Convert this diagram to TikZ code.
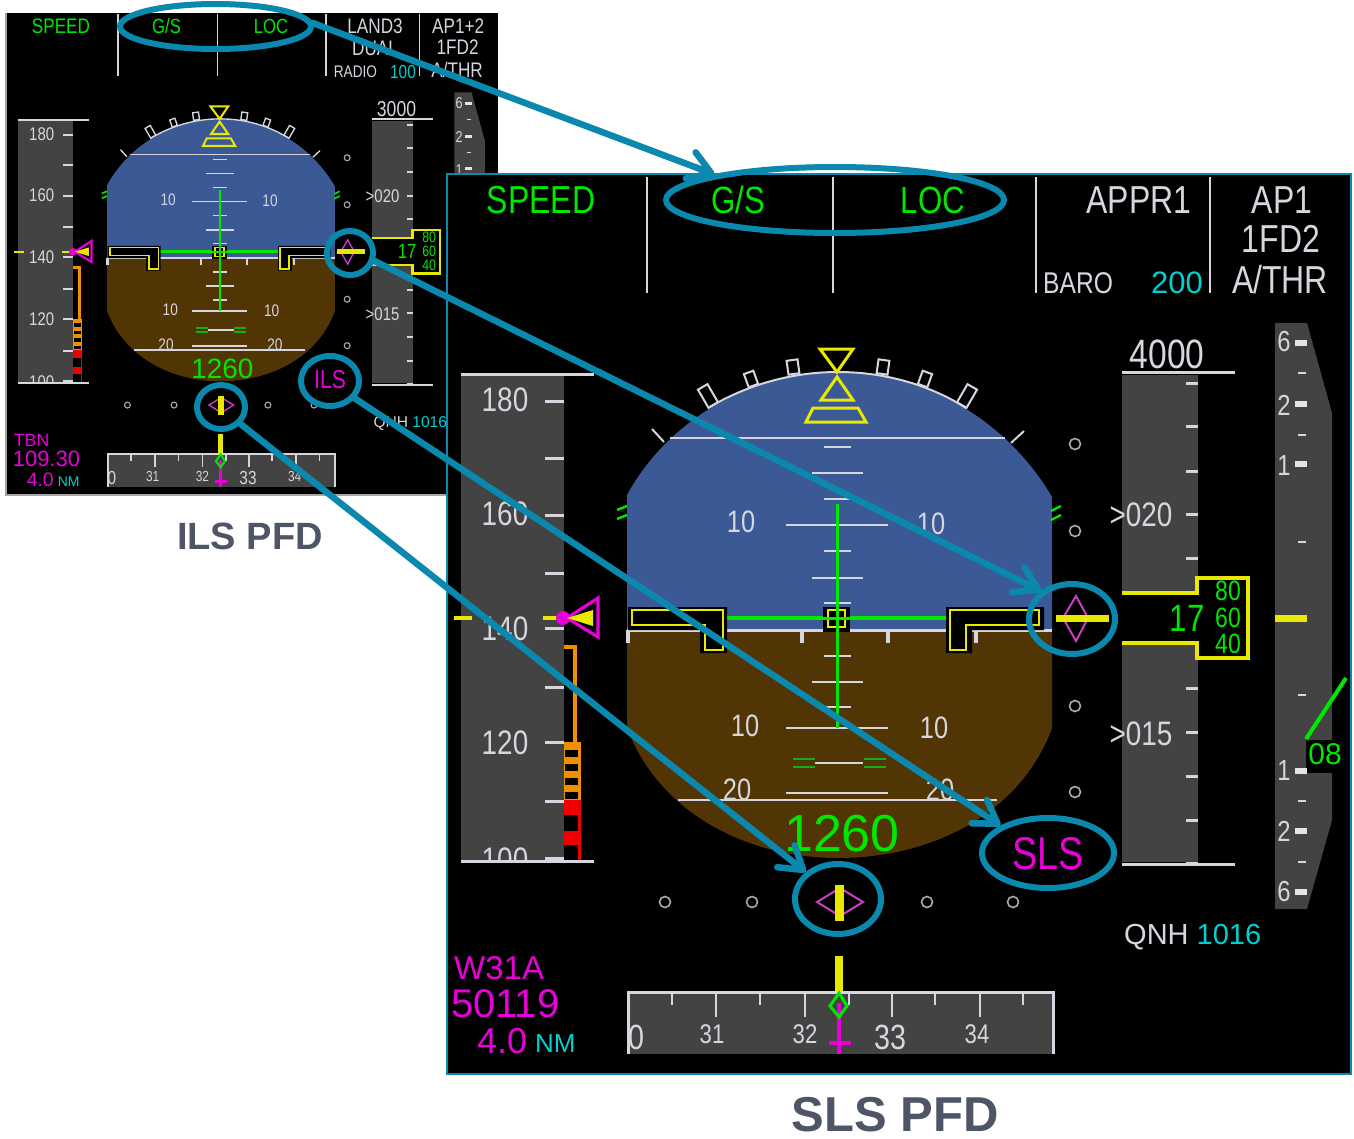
\documentclass[tikz,border=0pt]{standalone}
\usepackage{fontspec}
\setmainfont{Liberation Sans}
\newfontfamily\pfn[FakeStretch=0.82]{Liberation Sans}
\usetikzlibrary{arrows.meta,shapes.geometric}
\definecolor{wht}{HTML}{D6D6DE}
\definecolor{tape}{HTML}{434343}
\definecolor{sky}{HTML}{3B5995}
\definecolor{earth}{HTML}{523505}
\definecolor{grn}{HTML}{00E800}
\definecolor{dgrn}{HTML}{12B012}
\definecolor{yel}{HTML}{E8E800}
\definecolor{mag}{HTML}{E800D8}
\definecolor{dmag}{HTML}{C840C0}
\definecolor{cya}{HTML}{00D0D0}
\definecolor{org}{HTML}{F09000}
\definecolor{rd}{HTML}{F00000}
\definecolor{teal}{HTML}{0A88AE}
\definecolor{ttl}{HTML}{4D5566}
\def\LW{1}
\tikzset{
  x=1pt,y=-1pt,
  conn/.style={draw=teal,line width=6.5pt,line cap=round,-{Straight Barb[length=22pt,width=28pt,round]}},
  ring/.style={ellipse,draw=teal,line width=6pt,inner sep=0pt,fill=none},
  wl/.style={draw=wht,line width=2.4pt*\LW},
  wlb/.style={draw=wht,line width=3pt*\LW},
  yl/.style={draw=yel,line width=2.6pt*\LW},
  dia/.style={draw=dmag,line width=2pt*\LW},
  dot/.style={draw=wht!80!black,line width=1.6pt*\LW},
}
\newcounter{lblc}
% narrow display text
\newcommand\lbl[6][center]{\stepcounter{lblc}\node[anchor=#1,inner sep=0pt,text=#5,font=\pfn\fontsize{#4}{#4}\selectfont] (t\arabic{lblc}) at (#2,#3) {#6};}
% normal-width display text
\newcommand\lblw[6][center]{\stepcounter{lblc}\node[anchor=#1,inner sep=0pt,text=#5,font=\fontsize{#4}{#4}\selectfont] (t\arabic{lblc}) at (#2,#3) {#6};}
\newcommand\panelcommon{%
  % FMA
  \foreach \x in {647,833,1036,1210} \draw[wl] (\x,177) -- (\x,293);
  \lbl{541}{200}{39}{grn}{SPEED}
  \lbl{738}{200}{38}{grn}{G/S}
  \lbl{933}{200}{38}{grn}{LOC}
  % speed tape
  \fill[tape] (461,375) rectangle (564,860);
  \begin{scope}
    \clip (461,375) rectangle (564,860);
    \lbl{505}{860}{34}{wht}{100}
  \end{scope}
  \foreach \y/\t in {400/180,514/160,629/140,743/120} {\lbl{505}{\y}{34}{wht}{\t}}
  \foreach \y in {401,458,515,573,628,687,742,801,858} \draw[wlb] (545,\y) -- (564,\y);
  \draw[wlb] (461,374) -- (594,374);
  \draw[wlb] (461,861) -- (594,861);
  % speed limits
  \draw[org,line width=4pt*\LW] (564,647) -- (575,647) -- (575,742);
  \fill[org] (564,742) rectangle (581,800);
  \foreach \y in {750,764,778,792} \fill[black] (565,\y) rectangle (578,\y+7);
  \fill[rd] (564,800) rectangle (581,860);
  \fill[black] (564,815) rectangle (578,831);
  \fill[black] (564,845) rectangle (578,860);
  % speed index
  \draw[yel,line width=3.5pt*\LW] (454,618) -- (472,618);
  \draw[yel,line width=3.5pt*\LW] (543,618) -- (572,618);
  \fill[mag] (563,618) circle[radius=7];
  \draw[mag,line width=3.2pt*\LW] (567,618) -- (598,598) -- (598,637) -- cycle;
  \fill[yel] (567,618) -- (593,610) -- (593,626) -- cycle;
  % roll ticks
  \foreach \x/\y/\a/\w/\h in {708/396/30/11/21,751/379/20/10/14,793/367/8/11/14,883/367/-8/11/14,925/379/-20/10/14,967/396/-30/11/21}
    \draw[wl,line width=2pt*\LW,shift={(\x,\y)},rotate=\a] (-\w/2,-\h/2) rectangle (\w/2,\h/2);
  \draw[wl,line width=2pt*\LW] (652,429) -- (664,442);
  \draw[wl,line width=2pt*\LW] (1024,431) -- (1011,443);
  % attitude sphere
  \fill[sky] (627,495) .. controls (665,425) and (745,372) .. (838,372) .. controls (930,372) and (1010,425) .. (1052,497) -- (1052,630) -- (627,630) -- cycle;
  \fill[earth] (627,630) -- (627,728) .. controls (660,815) and (750,858) .. (838,858) .. controls (930,858) and (1020,815) .. (1052,728) -- (1052,630) -- cycle;
  \draw[wl,line width=2pt*\LW] (708,408) .. controls (750,383) and (795,372) .. (838,372) .. controls (885,372) and (930,385) .. (966,408);
  \draw[wl] (670,438) -- (1005,438);
  \draw[wlb] (627,630) -- (1052,630);
  \foreach \x in {628,802,888,976} \draw[wlb,line width=3.5pt*\LW] (\x,630) -- (\x,643);
  % pitch scale
  \foreach \y in {447,499,551,603,656,707} \draw[wl] (824,\y) -- (851,\y);
  \foreach \y in {473,578,682} \draw[wl] (812,\y) -- (863,\y);
  \foreach \y in {525,728,793} \draw[wl] (786,\y) -- (888,\y);
  \draw[wl] (815,763) -- (863,763);
  \draw[wl] (678,800) -- (997,800);
  \lbl{741}{522}{31}{wht}{10}
  \lbl{931}{524}{31}{wht}{10}
  \lbl{745}{726}{31}{wht}{10}
  \lbl{934}{728}{31}{wht}{10}
  \lbl{737}{790}{31}{wht}{20}
  \lbl{940}{790}{31}{wht}{20}
  \foreach \y in {759,767} {\draw[dgrn,line width=2.6pt*\LW] (793,\y) -- (815,\y); \draw[dgrn,line width=2.6pt*\LW] (864,\y) -- (886,\y);}
  % FD bars
  \draw[grn,line width=3pt*\LW] (837,504) -- (837,728);
  \draw[grn,line width=4pt*\LW] (723,618) -- (948,618);
  % aircraft symbol
  \fill[black] (628,607) -- (727,607) -- (727,653) -- (700,653) -- (700,630) -- (628,630) -- cycle;
  \draw[yl] (632,610) -- (723,610) -- (723,650) -- (705,650) -- (705,625) -- (632,625) -- cycle;
  \fill[black] (1044,607) -- (946,607) -- (946,653) -- (972,653) -- (972,630) -- (1044,630) -- cycle;
  \draw[yl] (1039,610) -- (950,610) -- (950,650) -- (966,650) -- (966,625) -- (1039,625) -- cycle;
  \fill[black] (823,607) rectangle (850,632);
  \draw[yl] (828,610) rectangle (845,627);
  \draw[grn,line width=3pt*\LW] (837,607) -- (837,632);
  \draw[grn,line width=3pt*\LW] (823,618) -- (850,618);
  % bank marks
  \draw[yl,line width=3pt*\LW] (820,349) -- (853,349) -- (837,372) -- cycle;
  \draw[yl,line width=3pt*\LW] (837,377) -- (853,400) -- (821,400) -- cycle;
  \draw[yl,line width=3pt*\LW] (813,408) -- (858,408) -- (866,422) -- (806,422) -- cycle;
  % pitch limit marks
  \foreach \y in {506,515} {\draw[grn,line width=2.4pt*\LW] (617,\y+4) -- (627,\y); \draw[grn,line width=2.4pt*\LW] (1051,\y+5) -- (1061,\y);}
  % radio altitude
  \lblw{842}{834}{52}{grn}{1260}
  % deviation dots
  \foreach \y in {444,531,706,792} \draw[dot] (1075,\y) circle[radius=5.5];
  \foreach \x in {665,752,927,1013} \draw[dot] (\x,902) circle[radius=5.5];
  % G/S and LOC diamonds
  \draw[dia] (1076,596) -- (1088,618) -- (1076,641) -- (1063,618) -- cycle;
  \draw[yel,line width=7pt*\LW] (1056,618) -- (1109,618);
  \draw[dia] (817,902) -- (840,888) -- (863,902) -- (840,916) -- cycle;
  \draw[yel,line width=9pt*\LW] (839,885) -- (839,921);
  \draw[yel,line width=7.5pt*\LW] (839,956) -- (839,993);
  % compass
  \fill[tape] (628,992) rectangle (1053,1054);
  \draw[wlb] (628,1054) -- (628,992) -- (1053,992) -- (1053,1054);
  \foreach \x in {672,760,849,935,1023} \draw[wl] (\x,992) -- (\x,1005);
  \foreach \x in {716,805,892,980} \draw[wl] (\x,992) -- (\x,1017);
  \lbl{636}{1037}{35}{wht}{0}
  \lbl{712}{1034}{27}{wht}{31}
  \lbl{805}{1034}{27}{wht}{32}
  \lbl{890}{1037}{35}{wht}{33}
  \lbl{977}{1034}{27}{wht}{34}
  \draw[mag,line width=4pt*\LW] (839,1003) -- (839,1054);
  \draw[mag,line width=4pt*\LW] (829,1043) -- (851,1043);
  \draw[grn,line width=3pt*\LW] (839,993) -- (847,1006) -- (839,1017) -- (830,1006) -- cycle;
  % altitude tape
  \fill[tape] (1122,375) rectangle (1198,862);
  \foreach \y in {383,426,471,514,558,688,732,776,820,863} \draw[wlb] (1186,\y) -- (1198,\y);
  \draw[wlb] (1122,372) -- (1235,372);
  \draw[wlb] (1122,864) -- (1235,864);
  \lbl{1141}{515}{34}{wht}{>020}
  \lbl{1141}{734}{34}{wht}{>015}
  % altitude window
  \fill[black] (1122,593) -- (1197,593) -- (1197,578) -- (1248,578) -- (1248,658) -- (1197,658) -- (1197,643) -- (1122,643) -- cycle;
  \draw[yel,line width=3.5pt*\LW] (1122,593) -- (1197,593) -- (1197,578) -- (1248,578) -- (1248,658) -- (1197,658) -- (1197,643) -- (1122,643);
  \lbl{1187}{618}{38}{grn}{17}
  \lbl{1228}{591}{28}{grn}{80}
  \lbl{1228}{618}{28}{grn}{60}
  \lbl{1228}{644}{28}{grn}{40}
  % vertical speed, upper part
  \fill[tape] (1275,323) -- (1307,323) -- (1332,413) -- (1332,740) -- (1306,740) -- (1306,773) -- (1332,773) -- (1332,820) -- (1307,909) -- (1275,909) -- cycle;
  \foreach \y/\t in {342/6,405/2,466/1} {\lbl{1284}{\y}{29}{wht}{\t}}
  \foreach \y in {343,404,464} \fill[white!90!black] (1295,\y-3) rectangle (1307,\y+3);
  \foreach \y in {373,435,542} \draw[wl,line width=1.5pt*\LW] (1298,\y) -- (1306,\y);
  \draw[yel,line width=7pt*\LW] (1275,618) -- (1307,618);
  % QNH
  \lblw[west]{1124}{937}{29}{wht}{QNH \textcolor{cya}{1016}}
}
\begin{document}
\begin{tikzpicture}
\useasboundingbox (0,0) rectangle (1354,1138);
\fill[white] (0,0) rectangle (1354,1138);
% ---- small panel
\fill[black] (5,13) rectangle (498,495);
\draw[gray!70,line width=2pt] (6,13) -- (6,495) -- (447,495);
\begin{scope}[shift={(-229,-82)},xscale=.536,yscale=.54,transform shape]
  \def\LW{.68}
  \panelcommon
  \lbl{1127}{200}{39}{wht}{LAND3}
  \lbl{1127}{241}{39}{wht}{DUAL}
  \lbl[west]{1050}{285}{31}{wht}{RADIO}
  \lbl[west]{1155}{285}{35}{cya}{100}
  \lbl{1282}{200}{39}{wht}{AP1+2}
  \lbl{1281}{240}{39}{wht}{1FD2}
  \lbl{1280}{281}{39}{wht}{A/THR}
  \lbl{1043}{855}{48}{mag}{ILS}
  \lblw[west]{453}{967}{33}{mag}{TBN}
  \lblw[west]{451}{1002}{41}{mag}{109.30}
  \lblw[west]{477}{1041}{36}{mag}{4.0}
  \lblw[west]{535}{1044}{26}{cya}{NM}
  \lbl{1167}{354}{40}{wht}{3000}
\end{scope}
% ---- large panel
\fill[black] (447,174) rectangle (1351,1074);
\draw[teal,line width=2pt] (447,174) rectangle (1351,1074);
\begin{scope}
  \def\LW{1}
  \panelcommon
  \lbl{1139}{200}{39}{wht}{APPR1}
  \lbl{1282}{200}{39}{wht}{AP1}
  \lbl{1281}{239}{39}{wht}{1FD2}
  \lbl{1280}{280}{39}{wht}{A/THR}
  \lbl[west]{1043}{283}{30}{wht}{BARO}
  \lblw{1177}{283}{31}{cya}{200}
  \lbl{1167}{354}{41}{wht}{4000}
  \lbl{1048}{854}{46}{mag}{SLS}
  \lblw[west]{454}{968}{33}{mag}{W31A}
  \lblw[west]{451}{1004}{40}{mag}{50119}
  \lblw[west]{477}{1041}{36}{mag}{4.0}
  \lblw[west]{535}{1044}{26}{cya}{NM}
  % vertical speed, lower part
  \foreach \y/\t in {771/1,831/2,892/6} {\lbl{1284}{\y}{29}{wht}{\t}}
  \foreach \y in {771,831,892} \fill[white!90!black] (1295,\y-3) rectangle (1307,\y+3);
  \foreach \y in {695,801,862} \draw[wl,line width=1.5pt] (1298,\y) -- (1306,\y);
  \draw[grn,line width=4pt] (1306,739) -- (1346,678);
  \lblw{1325}{754}{30}{grn}{08}
\end{scope}
% ---- titles
\node[inner sep=0pt,text=ttl,font=\bfseries\fontsize{38}{38}\selectfont] (ilstitle) at (250,536) {ILS PFD};
\node[inner sep=0pt,text=ttl,font=\bfseries\fontsize{49}{49}\selectfont] (slstitle) at (895,1115) {SLS PFD};
% ---- callout rings
\node[ring,minimum width=191pt,minimum height=45pt] (gsS) at (215.5,26.5) {};
\node[ring,minimum width=338pt,minimum height=66pt] (gsB) at (835,200) {};
\node[ring,minimum width=46pt,minimum height=44pt] (devS) at (350,253) {};
\node[ring,minimum width=86pt,minimum height=70pt] (devB) at (1072,619) {};
\node[ring,minimum width=58pt,minimum height=50pt] (srcS) at (330,381) {};
\node[ring,minimum width=132pt,minimum height=70pt] (srcB) at (1048,853) {};
\node[ring,minimum width=48pt,minimum height=44pt] (locS) at (221,407) {};
\node[ring,minimum width=86pt,minimum height=70pt] (locB) at (838,899) {};
% ---- connectors
\draw[conn] (gsS.2) -- (gsB.168);
\draw[conn] (devS.-18) -- (devB.138);
\draw[conn] (srcS.-35) -- (srcB.150);
\draw[conn] (locS.-41) -- (locB.140);
\end{tikzpicture}
\end{document}
